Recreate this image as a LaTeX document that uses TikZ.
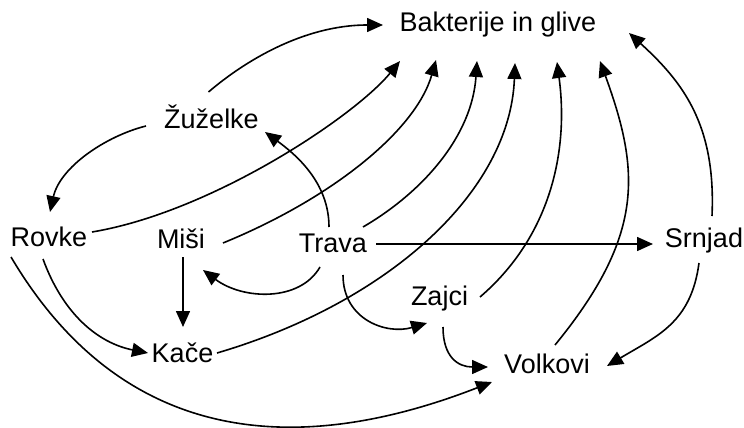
\documentclass[tikz,border=0pt]{standalone}
\usepackage{fontspec}
\setmainfont{Liberation Sans}
\usetikzlibrary{arrows.meta,calc}
\tikzset{
  lbl/.style={font=\fontsize{27}{30}\selectfont, inner sep=0pt, anchor=base},
  arr/.style={line width=1.6pt, -{Triangle[length=16pt,width=14pt]}}
}
\begin{document}
\begin{tikzpicture}[x=1pt,y=-1pt]
\useasboundingbox (0,0) rectangle (744,428);
\node[lbl] (bak) at (498,32) {Bakterije in glive};
\node[lbl] (zuz) at (211.5,128) {Žuželke};
\node[lbl] (rov) at (49,246) {Rovke};
\node[lbl] (mis) at (181,248) {Miši};
\node[lbl] (tra) at (333,252) {Trava};
\node[lbl] (kac) at (182.5,362) {Kače};
\node[lbl] (srn) at (704,247) {Srnjad};
\node[lbl] (zaj) at (439.5,305) {Zajci};
\node[lbl] (vol) at (547,373) {Volkovi};

% Zuzelke
\draw[arr] ($(zuz.base)+(-3,-36)$) .. controls +(35,-30) and +(-80,0) .. ($(bak.base)+(-115,-7)$);
\draw[arr] ($(zuz.base)+(-65.5,-2)$) .. controls +(-40,10) and +(10,-45) .. ($(rov.base)+(1,-34)$);
% Trava
\draw[arr] ($(tra.base)+(-4,-25)$) .. controls +(0,-45) and +(30,22) .. ($(zuz.base)+(53.5,4)$);
\draw[arr] ($(tra.base)+(30,-25)$) .. controls +(60,-35) and +(-5,75) .. ($(bak.base)+(-21,29)$);
\draw[arr] ($(tra.base)+(43,-8)$) -- ($(srn.base)+(-51,-3)$);
\draw[arr] ($(tra.base)+(-13,15)$) .. controls +(-20,35) and +(40,30) .. ($(mis.base)+(22,22)$);
\draw[arr] ($(tra.base)+(10,23)$) .. controls +(0,45) and +(-40,12) .. ($(zaj.base)+(-12.5,18)$);
% Rovke
\draw[arr] ($(rov.base)+(43,-14)$) .. controls +(120,-20) and +(-45,55) .. ($(bak.base)+(-98,29)$);
\draw[arr] ($(rov.base)+(-6,13)$) .. controls +(20,55) and +(-50,-10) .. ($(kac.base)+(-34.5,-9)$);
\draw[arr] ($(rov.base)+(-38,11)$) .. controls +(112,189) and +(-195,76) .. ($(vol.base)+(-55,9)$);
% Misi
\draw[arr] ($(mis.base)+(42,-5)$) .. controls +(110,-45) and +(-20,70) .. ($(bak.base)+(-62,28)$);
\draw[arr] ($(mis.base)+(2,9)$) -- ($(kac.base)+(0.5,-35)$);
% Kace
\draw[arr] ($(kac.base)+(34.5,-9)$) .. controls +(170,-50) and +(-5,130) .. ($(bak.base)+(17,31)$);
% Zajci
\draw[arr] ($(zaj.base)+(40.5,-8)$) .. controls +(70,-60) and +(12,90) .. ($(bak.base)+(59,30)$);
\draw[arr] ($(zaj.base)+(3.5,22)$) .. controls +(0,30) and +(-30,0) .. ($(vol.base)+(-59,-6)$);
% Volkovi
\draw[arr] ($(vol.base)+(8,-28)$) .. controls +(90,-110) and +(40,110) .. ($(bak.base)+(102,29)$);
% Srnjad
\draw[arr] ($(srn.base)+(8,-31)$) .. controls +(4,-90) and +(55,50) .. ($(bak.base)+(131,1)$);
\draw[arr] ($(srn.base)+(-5,16)$) .. controls +(-8,60) and +(50,-30) .. ($(vol.base)+(60,-7)$);
\end{tikzpicture}
\end{document}
